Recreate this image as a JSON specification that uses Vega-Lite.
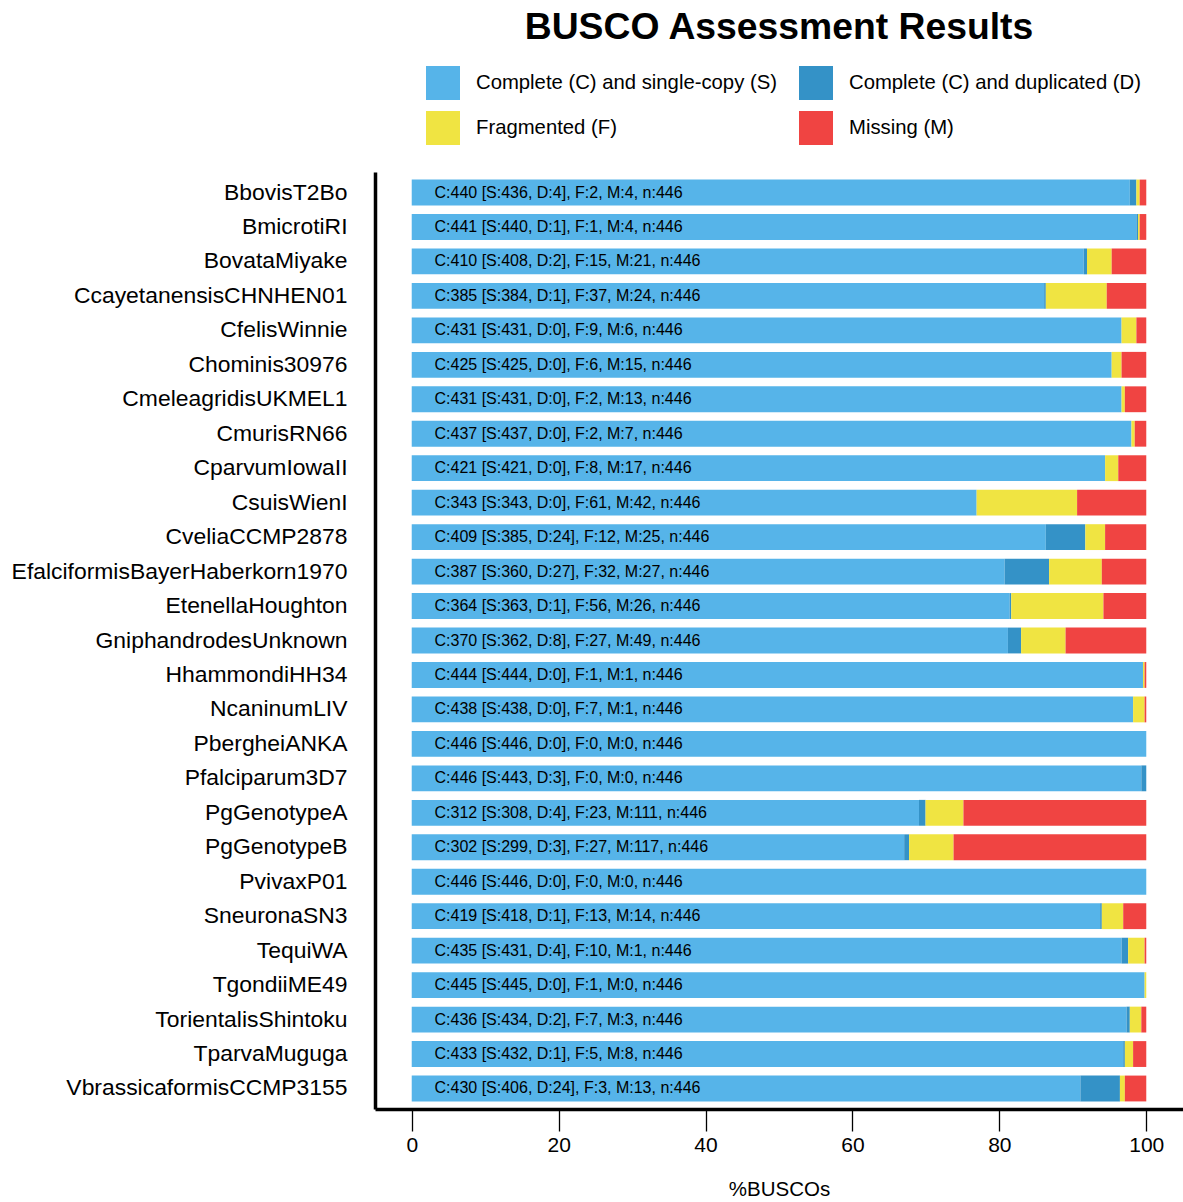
{
  "$schema": "https://vega.github.io/schema/vega-lite/v6.json",
  "width": 808,
  "height": 937,
  "autosize": {"type": "none"},
  "padding": {"left": 375, "top": 172, "right": 0, "bottom": 93},
  "background": "white",
  "config": {"font": "Liberation Sans", "view": {"stroke": null}, "axis": {"grid": false}},
  "title": {"text": "BUSCO Assessment Results", "fontSize": 37.3, "fontWeight": "bold", "font": "Liberation Sans", "anchor": "middle", "color": "black", "offset": 19},
  "datasets": {
    "counts": [
      {"species": "BbovisT2Bo", "category": "Complete (C) and single-copy (S)", "o": 1, "count": 436},
      {"species": "BbovisT2Bo", "category": "Complete (C) and duplicated (D)", "o": 2, "count": 4},
      {"species": "BbovisT2Bo", "category": "Fragmented (F)", "o": 3, "count": 2},
      {"species": "BbovisT2Bo", "category": "Missing (M)", "o": 4, "count": 4},
      {"species": "BmicrotiRI", "category": "Complete (C) and single-copy (S)", "o": 1, "count": 440},
      {"species": "BmicrotiRI", "category": "Complete (C) and duplicated (D)", "o": 2, "count": 1},
      {"species": "BmicrotiRI", "category": "Fragmented (F)", "o": 3, "count": 1},
      {"species": "BmicrotiRI", "category": "Missing (M)", "o": 4, "count": 4},
      {"species": "BovataMiyake", "category": "Complete (C) and single-copy (S)", "o": 1, "count": 408},
      {"species": "BovataMiyake", "category": "Complete (C) and duplicated (D)", "o": 2, "count": 2},
      {"species": "BovataMiyake", "category": "Fragmented (F)", "o": 3, "count": 15},
      {"species": "BovataMiyake", "category": "Missing (M)", "o": 4, "count": 21},
      {"species": "CcayetanensisCHNHEN01", "category": "Complete (C) and single-copy (S)", "o": 1, "count": 384},
      {"species": "CcayetanensisCHNHEN01", "category": "Complete (C) and duplicated (D)", "o": 2, "count": 1},
      {"species": "CcayetanensisCHNHEN01", "category": "Fragmented (F)", "o": 3, "count": 37},
      {"species": "CcayetanensisCHNHEN01", "category": "Missing (M)", "o": 4, "count": 24},
      {"species": "CfelisWinnie", "category": "Complete (C) and single-copy (S)", "o": 1, "count": 431},
      {"species": "CfelisWinnie", "category": "Complete (C) and duplicated (D)", "o": 2, "count": 0},
      {"species": "CfelisWinnie", "category": "Fragmented (F)", "o": 3, "count": 9},
      {"species": "CfelisWinnie", "category": "Missing (M)", "o": 4, "count": 6},
      {"species": "Chominis30976", "category": "Complete (C) and single-copy (S)", "o": 1, "count": 425},
      {"species": "Chominis30976", "category": "Complete (C) and duplicated (D)", "o": 2, "count": 0},
      {"species": "Chominis30976", "category": "Fragmented (F)", "o": 3, "count": 6},
      {"species": "Chominis30976", "category": "Missing (M)", "o": 4, "count": 15},
      {"species": "CmeleagridisUKMEL1", "category": "Complete (C) and single-copy (S)", "o": 1, "count": 431},
      {"species": "CmeleagridisUKMEL1", "category": "Complete (C) and duplicated (D)", "o": 2, "count": 0},
      {"species": "CmeleagridisUKMEL1", "category": "Fragmented (F)", "o": 3, "count": 2},
      {"species": "CmeleagridisUKMEL1", "category": "Missing (M)", "o": 4, "count": 13},
      {"species": "CmurisRN66", "category": "Complete (C) and single-copy (S)", "o": 1, "count": 437},
      {"species": "CmurisRN66", "category": "Complete (C) and duplicated (D)", "o": 2, "count": 0},
      {"species": "CmurisRN66", "category": "Fragmented (F)", "o": 3, "count": 2},
      {"species": "CmurisRN66", "category": "Missing (M)", "o": 4, "count": 7},
      {"species": "CparvumIowaII", "category": "Complete (C) and single-copy (S)", "o": 1, "count": 421},
      {"species": "CparvumIowaII", "category": "Complete (C) and duplicated (D)", "o": 2, "count": 0},
      {"species": "CparvumIowaII", "category": "Fragmented (F)", "o": 3, "count": 8},
      {"species": "CparvumIowaII", "category": "Missing (M)", "o": 4, "count": 17},
      {"species": "CsuisWienI", "category": "Complete (C) and single-copy (S)", "o": 1, "count": 343},
      {"species": "CsuisWienI", "category": "Complete (C) and duplicated (D)", "o": 2, "count": 0},
      {"species": "CsuisWienI", "category": "Fragmented (F)", "o": 3, "count": 61},
      {"species": "CsuisWienI", "category": "Missing (M)", "o": 4, "count": 42},
      {"species": "CveliaCCMP2878", "category": "Complete (C) and single-copy (S)", "o": 1, "count": 385},
      {"species": "CveliaCCMP2878", "category": "Complete (C) and duplicated (D)", "o": 2, "count": 24},
      {"species": "CveliaCCMP2878", "category": "Fragmented (F)", "o": 3, "count": 12},
      {"species": "CveliaCCMP2878", "category": "Missing (M)", "o": 4, "count": 25},
      {"species": "EfalciformisBayerHaberkorn1970", "category": "Complete (C) and single-copy (S)", "o": 1, "count": 360},
      {"species": "EfalciformisBayerHaberkorn1970", "category": "Complete (C) and duplicated (D)", "o": 2, "count": 27},
      {"species": "EfalciformisBayerHaberkorn1970", "category": "Fragmented (F)", "o": 3, "count": 32},
      {"species": "EfalciformisBayerHaberkorn1970", "category": "Missing (M)", "o": 4, "count": 27},
      {"species": "EtenellaHoughton", "category": "Complete (C) and single-copy (S)", "o": 1, "count": 363},
      {"species": "EtenellaHoughton", "category": "Complete (C) and duplicated (D)", "o": 2, "count": 1},
      {"species": "EtenellaHoughton", "category": "Fragmented (F)", "o": 3, "count": 56},
      {"species": "EtenellaHoughton", "category": "Missing (M)", "o": 4, "count": 26},
      {"species": "GniphandrodesUnknown", "category": "Complete (C) and single-copy (S)", "o": 1, "count": 362},
      {"species": "GniphandrodesUnknown", "category": "Complete (C) and duplicated (D)", "o": 2, "count": 8},
      {"species": "GniphandrodesUnknown", "category": "Fragmented (F)", "o": 3, "count": 27},
      {"species": "GniphandrodesUnknown", "category": "Missing (M)", "o": 4, "count": 49},
      {"species": "HhammondiHH34", "category": "Complete (C) and single-copy (S)", "o": 1, "count": 444},
      {"species": "HhammondiHH34", "category": "Complete (C) and duplicated (D)", "o": 2, "count": 0},
      {"species": "HhammondiHH34", "category": "Fragmented (F)", "o": 3, "count": 1},
      {"species": "HhammondiHH34", "category": "Missing (M)", "o": 4, "count": 1},
      {"species": "NcaninumLIV", "category": "Complete (C) and single-copy (S)", "o": 1, "count": 438},
      {"species": "NcaninumLIV", "category": "Complete (C) and duplicated (D)", "o": 2, "count": 0},
      {"species": "NcaninumLIV", "category": "Fragmented (F)", "o": 3, "count": 7},
      {"species": "NcaninumLIV", "category": "Missing (M)", "o": 4, "count": 1},
      {"species": "PbergheiANKA", "category": "Complete (C) and single-copy (S)", "o": 1, "count": 446},
      {"species": "PbergheiANKA", "category": "Complete (C) and duplicated (D)", "o": 2, "count": 0},
      {"species": "PbergheiANKA", "category": "Fragmented (F)", "o": 3, "count": 0},
      {"species": "PbergheiANKA", "category": "Missing (M)", "o": 4, "count": 0},
      {"species": "Pfalciparum3D7", "category": "Complete (C) and single-copy (S)", "o": 1, "count": 443},
      {"species": "Pfalciparum3D7", "category": "Complete (C) and duplicated (D)", "o": 2, "count": 3},
      {"species": "Pfalciparum3D7", "category": "Fragmented (F)", "o": 3, "count": 0},
      {"species": "Pfalciparum3D7", "category": "Missing (M)", "o": 4, "count": 0},
      {"species": "PgGenotypeA", "category": "Complete (C) and single-copy (S)", "o": 1, "count": 308},
      {"species": "PgGenotypeA", "category": "Complete (C) and duplicated (D)", "o": 2, "count": 4},
      {"species": "PgGenotypeA", "category": "Fragmented (F)", "o": 3, "count": 23},
      {"species": "PgGenotypeA", "category": "Missing (M)", "o": 4, "count": 111},
      {"species": "PgGenotypeB", "category": "Complete (C) and single-copy (S)", "o": 1, "count": 299},
      {"species": "PgGenotypeB", "category": "Complete (C) and duplicated (D)", "o": 2, "count": 3},
      {"species": "PgGenotypeB", "category": "Fragmented (F)", "o": 3, "count": 27},
      {"species": "PgGenotypeB", "category": "Missing (M)", "o": 4, "count": 117},
      {"species": "PvivaxP01", "category": "Complete (C) and single-copy (S)", "o": 1, "count": 446},
      {"species": "PvivaxP01", "category": "Complete (C) and duplicated (D)", "o": 2, "count": 0},
      {"species": "PvivaxP01", "category": "Fragmented (F)", "o": 3, "count": 0},
      {"species": "PvivaxP01", "category": "Missing (M)", "o": 4, "count": 0},
      {"species": "SneuronaSN3", "category": "Complete (C) and single-copy (S)", "o": 1, "count": 418},
      {"species": "SneuronaSN3", "category": "Complete (C) and duplicated (D)", "o": 2, "count": 1},
      {"species": "SneuronaSN3", "category": "Fragmented (F)", "o": 3, "count": 13},
      {"species": "SneuronaSN3", "category": "Missing (M)", "o": 4, "count": 14},
      {"species": "TequiWA", "category": "Complete (C) and single-copy (S)", "o": 1, "count": 431},
      {"species": "TequiWA", "category": "Complete (C) and duplicated (D)", "o": 2, "count": 4},
      {"species": "TequiWA", "category": "Fragmented (F)", "o": 3, "count": 10},
      {"species": "TequiWA", "category": "Missing (M)", "o": 4, "count": 1},
      {"species": "TgondiiME49", "category": "Complete (C) and single-copy (S)", "o": 1, "count": 445},
      {"species": "TgondiiME49", "category": "Complete (C) and duplicated (D)", "o": 2, "count": 0},
      {"species": "TgondiiME49", "category": "Fragmented (F)", "o": 3, "count": 1},
      {"species": "TgondiiME49", "category": "Missing (M)", "o": 4, "count": 0},
      {"species": "TorientalisShintoku", "category": "Complete (C) and single-copy (S)", "o": 1, "count": 434},
      {"species": "TorientalisShintoku", "category": "Complete (C) and duplicated (D)", "o": 2, "count": 2},
      {"species": "TorientalisShintoku", "category": "Fragmented (F)", "o": 3, "count": 7},
      {"species": "TorientalisShintoku", "category": "Missing (M)", "o": 4, "count": 3},
      {"species": "TparvaMuguga", "category": "Complete (C) and single-copy (S)", "o": 1, "count": 432},
      {"species": "TparvaMuguga", "category": "Complete (C) and duplicated (D)", "o": 2, "count": 1},
      {"species": "TparvaMuguga", "category": "Fragmented (F)", "o": 3, "count": 5},
      {"species": "TparvaMuguga", "category": "Missing (M)", "o": 4, "count": 8},
      {"species": "VbrassicaformisCCMP3155", "category": "Complete (C) and single-copy (S)", "o": 1, "count": 406},
      {"species": "VbrassicaformisCCMP3155", "category": "Complete (C) and duplicated (D)", "o": 2, "count": 24},
      {"species": "VbrassicaformisCCMP3155", "category": "Fragmented (F)", "o": 3, "count": 3},
      {"species": "VbrassicaformisCCMP3155", "category": "Missing (M)", "o": 4, "count": 13}
    ],
    "labels": [
      {"species": "BbovisT2Bo", "label": "C:440 [S:436, D:4], F:2, M:4, n:446"},
      {"species": "BmicrotiRI", "label": "C:441 [S:440, D:1], F:1, M:4, n:446"},
      {"species": "BovataMiyake", "label": "C:410 [S:408, D:2], F:15, M:21, n:446"},
      {"species": "CcayetanensisCHNHEN01", "label": "C:385 [S:384, D:1], F:37, M:24, n:446"},
      {"species": "CfelisWinnie", "label": "C:431 [S:431, D:0], F:9, M:6, n:446"},
      {"species": "Chominis30976", "label": "C:425 [S:425, D:0], F:6, M:15, n:446"},
      {"species": "CmeleagridisUKMEL1", "label": "C:431 [S:431, D:0], F:2, M:13, n:446"},
      {"species": "CmurisRN66", "label": "C:437 [S:437, D:0], F:2, M:7, n:446"},
      {"species": "CparvumIowaII", "label": "C:421 [S:421, D:0], F:8, M:17, n:446"},
      {"species": "CsuisWienI", "label": "C:343 [S:343, D:0], F:61, M:42, n:446"},
      {"species": "CveliaCCMP2878", "label": "C:409 [S:385, D:24], F:12, M:25, n:446"},
      {"species": "EfalciformisBayerHaberkorn1970", "label": "C:387 [S:360, D:27], F:32, M:27, n:446"},
      {"species": "EtenellaHoughton", "label": "C:364 [S:363, D:1], F:56, M:26, n:446"},
      {"species": "GniphandrodesUnknown", "label": "C:370 [S:362, D:8], F:27, M:49, n:446"},
      {"species": "HhammondiHH34", "label": "C:444 [S:444, D:0], F:1, M:1, n:446"},
      {"species": "NcaninumLIV", "label": "C:438 [S:438, D:0], F:7, M:1, n:446"},
      {"species": "PbergheiANKA", "label": "C:446 [S:446, D:0], F:0, M:0, n:446"},
      {"species": "Pfalciparum3D7", "label": "C:446 [S:443, D:3], F:0, M:0, n:446"},
      {"species": "PgGenotypeA", "label": "C:312 [S:308, D:4], F:23, M:111, n:446"},
      {"species": "PgGenotypeB", "label": "C:302 [S:299, D:3], F:27, M:117, n:446"},
      {"species": "PvivaxP01", "label": "C:446 [S:446, D:0], F:0, M:0, n:446"},
      {"species": "SneuronaSN3", "label": "C:419 [S:418, D:1], F:13, M:14, n:446"},
      {"species": "TequiWA", "label": "C:435 [S:431, D:4], F:10, M:1, n:446"},
      {"species": "TgondiiME49", "label": "C:445 [S:445, D:0], F:1, M:0, n:446"},
      {"species": "TorientalisShintoku", "label": "C:436 [S:434, D:2], F:7, M:3, n:446"},
      {"species": "TparvaMuguga", "label": "C:433 [S:432, D:1], F:5, M:8, n:446"},
      {"species": "VbrassicaformisCCMP3155", "label": "C:430 [S:406, D:24], F:3, M:13, n:446"}
    ]
  },
  "layer": [
    {
      "data": {"name": "counts"},
      "mark": {"type": "bar"},
      "encoding": {
        "y": {
          "field": "species", "type": "nominal",
          "sort": ["BbovisT2Bo","BmicrotiRI","BovataMiyake","CcayetanensisCHNHEN01","CfelisWinnie","Chominis30976","CmeleagridisUKMEL1","CmurisRN66","CparvumIowaII","CsuisWienI","CveliaCCMP2878","EfalciformisBayerHaberkorn1970","EtenellaHoughton","GniphandrodesUnknown","HhammondiHH34","NcaninumLIV","PbergheiANKA","Pfalciparum3D7","PgGenotypeA","PgGenotypeB","PvivaxP01","SneuronaSN3","TequiWA","TgondiiME49","TorientalisShintoku","TparvaMuguga","VbrassicaformisCCMP3155"],
          "scale": {"paddingInner": 0.25, "paddingOuter": 0.22},
          "axis": {"title": null, "ticks": false, "domainColor": "black", "domainWidth": 3.5, "labelFontSize": 22.9, "labelColor": "black", "labelPadding": 28, "labelLimit": 400}
        },
        "x": {
          "field": "count", "type": "quantitative", "stack": "normalize",
          "scale": {"domain": [-0.05, 1.05], "nice": false, "zero": false},
          "axis": {"title": "%BUSCOs", "values": [0, 0.2, 0.4, 0.6, 0.8, 1], "labelExpr": "format(datum.value * 100, 'd')", "tickSize": 22, "tickWidth": 1.3, "tickColor": "black", "domainColor": "black", "domainWidth": 3.5, "labelFontSize": 21, "labelColor": "black", "labelPadding": 3, "titleFontSize": 20.5, "titleFontWeight": "normal", "titleColor": "black", "titlePadding": 24, "labelFlush": false}
        },
        "color": {
          "field": "category", "type": "nominal",
          "scale": {"domain": ["Complete (C) and single-copy (S)", "Complete (C) and duplicated (D)", "Fragmented (F)", "Missing (M)"], "range": ["#56B4E9", "#3492C7", "#F0E442", "#F04442"]},
          "legend": {"orient": "none", "legendX": 51, "legendY": -106, "direction": "horizontal", "columns": 2, "title": null, "symbolType": "square", "symbolSize": 1156, "symbolStrokeWidth": 0, "symbolOpacity": 1, "labelFontSize": 20.3, "labelOffset": 16, "columnPadding": 22, "rowPadding": 11, "labelLimit": 400, "labelColor": "black", "padding": 0}
        },
        "order": {"field": "o", "type": "quantitative"}
      }
    },
    {
      "data": {"name": "labels"},
      "mark": {"type": "text", "align": "left", "baseline": "middle", "fontSize": 16, "color": "black"},
      "encoding": {
        "y": {"field": "species", "type": "nominal"},
        "x": {"datum": 0.031},
        "text": {"field": "label"}
      }
    }
  ]
}
